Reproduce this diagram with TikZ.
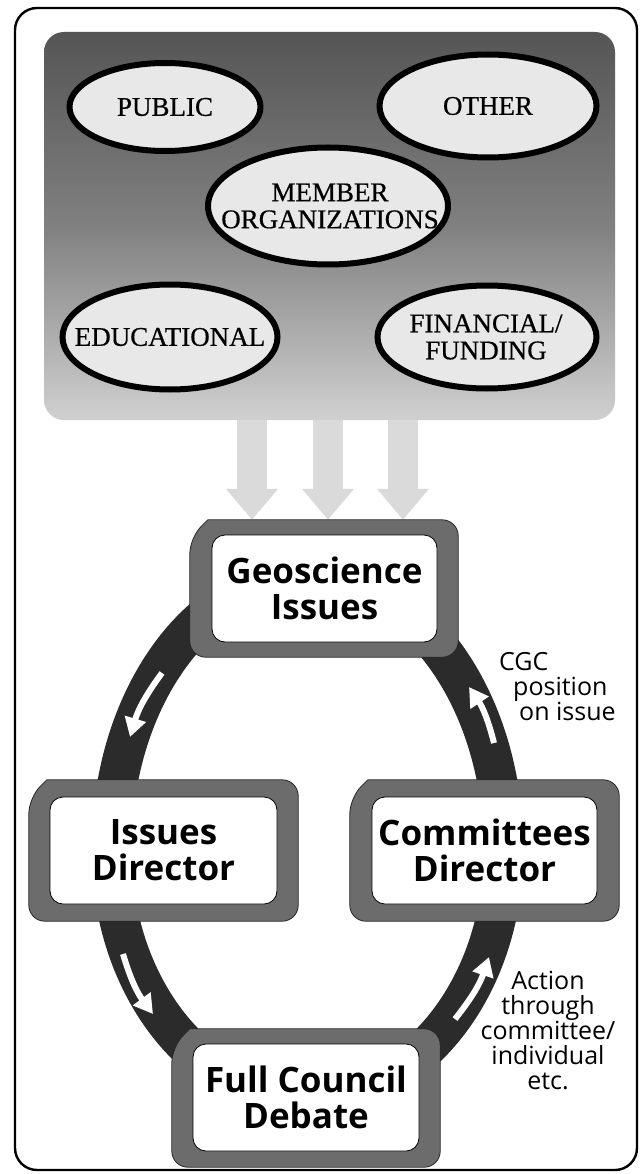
\documentclass[tikz,border=0pt]{standalone}
\usepackage{fontspec}
\setmainfont{Liberation Serif}
\newfontfamily\eserif{Liberation Serif}[FakeBold=0.6]
\newfontfamily\hsans{Open Sans}
\usetikzlibrary{arrows.meta,shapes.geometric,calc}
\definecolor{ringc}{HTML}{2B2B2B}
\definecolor{bevelc}{HTML}{6C6C6C}
\definecolor{ellfill}{HTML}{E8E8E8}
\definecolor{fadec}{HTML}{DADADA}
\definecolor{gtop}{HTML}{555555}
\definecolor{gmid}{HTML}{808080}
\definecolor{gbot}{HTML}{D0D0D0}
\newcommand{\bevelframe}[1]{%
  \filldraw[bevel] ([yshift=-18pt]#1.north west) -- ([xshift=18pt]#1.north west)
    [rounded corners=16pt] -- (#1.north east) -- (#1.south east) -- (#1.south west) -- cycle;}
\begin{document}
\begin{tikzpicture}[x=1pt,y=-1pt,
  srcbox/.style={draw=none, rounded corners=20pt, top color=gtop, bottom color=gbot, middle color=gmid, inner sep=0pt},
  ell/.style={ellipse, draw=black, line width=6pt, fill=ellfill, inner sep=0pt},
  etext/.style={font=\eserif\fontsize{27}{27}\selectfont, align=center, inner sep=0pt},
  frameholder/.style={draw=none, inner sep=0pt},
  bevel/.style={draw=black!85, line width=0.8pt, fill=bevelc},
  inbox/.style={draw=black, line width=0.8pt, fill=white, rounded corners=13pt, inner sep=0pt,
    font=\hsans\bfseries\fontsize{35}{36}\selectfont, align=center},
  ring/.style={draw=ringc, line width=40pt},
  warrow/.style={draw=white, line width=6pt, -{Triangle[width=21pt,length=19pt]}},
  fade/.style={draw=fadec, line width=30pt, -{Triangle[width=50pt,length=31pt]}},
  lbl/.style={font=\hsans\fontsize{25}{25}\selectfont, inner sep=0pt}
]
\useasboundingbox (0,0) rectangle (644,1174);
\fill[white] (0,0) rectangle (644,1174);
% outer frame
\draw[line width=2.4pt, rounded corners=22pt] (15,8) rectangle (637,1170);

% source box with ellipses
\node[srcbox, minimum width=571pt, minimum height=388pt] (src) at (329.5,226) {};
\node[ell, minimum width=191pt, minimum height=88pt] (pub) at (165,107) {};
\node[etext] (pubt) at (pub) {PUBLIC};
\node[ell, minimum width=217pt, minimum height=103pt] (oth) at (488,106) {};
\node[etext] (otht) at (oth) {OTHER};
\node[ell, minimum width=240pt, minimum height=117pt] (mem) at (328,206) {};
\node[etext] (memt) at (330,206) {MEMBER\\ORGANIZATIONS};
\node[ell, minimum width=215pt, minimum height=105pt] (edu) at (170,337) {};
\node[etext] (edut) at (edu) {EDUCATIONAL};
\node[ell, minimum width=219pt, minimum height=103pt] (fin) at (487,337) {};
\node[etext] (fint) at (486,337) {FINANCIAL/\\FUNDING};

% frames of the cycle boxes (geometry holders)
\node[frameholder, minimum width=268pt, minimum height=137pt] (geoF) at (324,588.5) {};
\node[frameholder, minimum width=269pt, minimum height=141pt] (issF) at (163.5,850.5) {};
\node[frameholder, minimum width=269pt, minimum height=141pt] (comF) at (484.5,850.5) {};
\node[frameholder, minimum width=268pt, minimum height=138pt] (debF) at (306,1098) {};

% faint arrows from source box to Geoscience Issues
\coordinate (fl) at (252,466);
\coordinate (fm) at (328,466);
\coordinate (fr) at (403,466);
\draw[fade] (src.south -| fl) -- (geoF.north -| fl);
\draw[fade] (src.south -| fm) -- (geoF.north -| fm);
\draw[fade] (src.south -| fr) -- (geoF.north -| fr);

% ring
\draw[ring] (111.5,850) arc[start angle=180, end angle=0, x radius=196pt, y radius=273pt]
  arc[start angle=0, end angle=-180, x radius=196pt, y radius=248pt] -- cycle;

% white arrows on ring
\coordinate (a1s) at (162,673); \coordinate (a1e) at (130,737);
\coordinate (a2s) at (123,954); \coordinate (a2e) at (153,1014);
\coordinate (a3s) at (455,1019); \coordinate (a3e) at (489,957);
\coordinate (a4s) at (494,743); \coordinate (a4e) at (469,687);
\draw[warrow] (a1s) to[bend right=10] (a1e);
\draw[warrow] (a2s) to[bend right=10] (a2e);
\draw[warrow] (a3s) to[bend right=10] (a3e);
\draw[warrow] (a4s) to[bend right=10] (a4e);

% boxes
\bevelframe{geoF}
\node[inbox, minimum width=225pt, minimum height=107pt] (geo) at (324.5,588.5) {Geoscience\\Issues};
\bevelframe{issF}
\node[inbox, minimum width=227pt, minimum height=107pt] (iss) at (163.5,850.5) {Issues\\Director};
\bevelframe{comF}
\node[inbox, minimum width=225pt, minimum height=107pt] (com) at (484.5,850.5) {Committees\\Director};
\bevelframe{debF}
\node[inbox, minimum width=226pt, minimum height=107pt] (deb) at (306,1097.5) {Full Council\\Debate};

% side labels
\node[lbl, anchor=north west, align=left] (cgc) at (499,652) {CGC\\\hspace*{14pt}position\\\hspace*{20pt}on issue};
\node[lbl, anchor=north, align=center] (act) at (548,971) {Action\\through\\committee/\\individual\\etc.};
\end{tikzpicture}
\end{document}
